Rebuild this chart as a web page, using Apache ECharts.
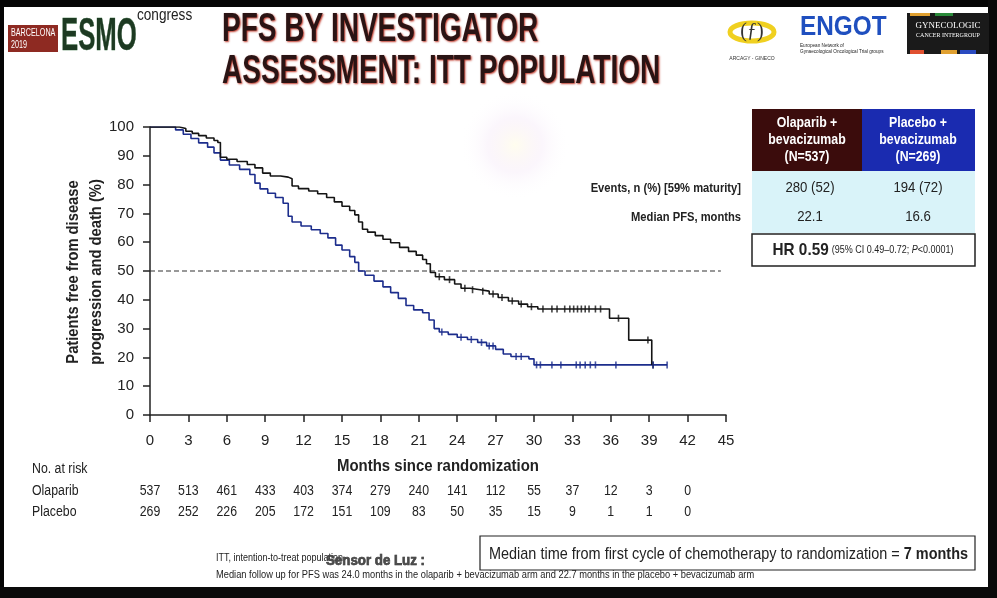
<!DOCTYPE html>
<html><head><meta charset="utf-8">
<script src="https://cdn.jsdelivr.net/npm/echarts@6/dist/echarts.min.js"></script>
<style>html,body{margin:0;padding:0;background:#fff}#c{width:997px;height:598px}</style>
</head><body><div id="c"></div>
<script>
// ---------- DATA ----------
const xTicks = [0,3,6,9,12,15,18,21,24,27,30,33,36,39,42,45];
const olaparibKM = [[0,100],[2.0,100],[2.3,99.5],[2.8,98.5],[3.3,97.8],[3.8,97],[4.4,96.2],[5.0,95.3],[5.3,94.6],[5.5,89.5],[6.0,88.8],[6.8,88],[7.6,87],[8.2,85.8],[8.8,84],[9.4,83],[10.2,82.6],[10.8,82],[11.1,79.5],[11.6,78.6],[12.4,77.8],[13.1,76.8],[13.8,75.5],[14.4,74],[15.0,72.5],[15.6,71],[16.0,69.5],[16.3,67],[16.6,64.5],[17.0,63.5],[17.6,62.3],[18.2,61],[18.8,59.8],[19.5,58.2],[20.2,56.8],[20.8,55.5],[21.3,54],[21.6,52.5],[21.9,49.5],[22.3,48],[23.0,47],[23.8,45.5],[24.3,44],[25.0,43.5],[25.8,43],[26.5,42],[27.2,40.8],[28.0,39.6],[28.8,38.5],[29.5,37.6],[30.3,36.8],[35.9,33.6],[37.4,26.0],[39.2,17.4]];
const placeboKM = [[0,100],[1.6,100],[2.0,99],[2.6,97.5],[3.2,96],[3.8,94.5],[4.5,93],[5.0,91],[5.5,88.5],[6.2,86.8],[7.0,85.3],[7.8,83.5],[8.2,80.5],[8.6,78.5],[9.2,77],[9.8,75.5],[10.4,73.5],[10.8,69],[11.1,67],[11.8,65.6],[12.6,64.3],[13.3,63],[13.9,61.5],[14.5,59],[15.0,57.3],[15.6,55],[16.0,53],[16.3,50],[16.8,48.5],[17.5,46.5],[18.2,44.5],[18.8,42.5],[19.4,40.5],[20.0,38],[20.6,36.5],[21.3,35.5],[21.8,33],[22.2,30],[22.6,28.8],[23.3,28],[24.0,27],[24.8,26.2],[25.6,25.2],[26.3,24],[27.0,22.8],[27.6,21.2],[28.2,20.3],[29.6,19.5],[30.0,17.4],[40.4,17.4]];
const olaparibCensor = [[22.6,48],[23.4,47],[24.6,44],[25.2,43.5],[26.0,43],[26.8,42],[27.5,40.8],[28.3,39.6],[29.0,38.5],[29.8,37.6],[30.7,36.8],[31.4,36.8],[31.8,36.8],[32.4,36.8],[32.8,36.8],[33.1,36.8],[33.4,36.8],[33.7,36.8],[34.0,36.8],[34.3,36.8],[34.8,36.8],[35.2,36.8],[36.6,33.6],[38.9,26.0],[39.3,17.4]];
const placeboCensor = [[22.8,28.8],[24.3,27],[25.1,26.2],[25.9,25.2],[26.5,24],[26.8,24],[28.6,20.3],[29.0,20.3],[30.2,17.4],[30.5,17.4],[31.4,17.4],[32.1,17.4],[33.3,17.4],[33.6,17.4],[34.0,17.4],[34.4,17.4],[34.8,17.4],[36.4,17.4],[39.3,17.4],[40.4,17.4]];
const medianRef = [[0,50],[44.6,50]];
const riskTimes = [0,3,6,9,12,15,18,21,24,27,30,33,36,39,42];
const olaparibRisk = [537,513,461,433,403,374,279,240,141,112,55,37,12,3,0];
const placeboRisk = [269,252,226,205,172,151,109,83,50,35,15,9,1,1,0];
const tableHeader = ['Olaparib +\nbevacizumab\n(N=537)','Placebo +\nbevacizumab\n(N=269)'];
const tableRowLabels = ['Events, n (%) [59% maturity]','Median PFS, months'];
const tableOlaparib = ['280 (52)','22.1'];
const tablePlacebo = ['194 (72)','16.6'];

// ---------- CHART ----------
const FONT = '"Liberation Sans",Arial,sans-serif';
const BLACK = '#141414', BLUE = '#1c2d8c';
const chart = echarts.init(document.getElementById('c'), null, {renderer:'canvas'});
const option = {
  backgroundColor:'#ffffff',
  animation:false,
  grid:{left:150, right:271, top:127, bottom:183},
  xAxis:{type:'value', min:0, max:45, interval:3,
    axisLine:{show:true, lineStyle:{color:'#222', width:1.5}},
    axisTick:{show:true, length:7, lineStyle:{color:'#222', width:1.5}},
    axisLabel:{fontFamily:FONT, fontSize:15, color:'#222', margin:18},
    splitLine:{show:false}},
  yAxis:{type:'value', min:0, max:100, interval:10,
    axisLine:{show:true, lineStyle:{color:'#222', width:1.5}},
    axisTick:{show:true, length:7, lineStyle:{color:'#222', width:1.5}},
    axisLabel:{fontFamily:FONT, fontSize:15, color:'#222', margin:16},
    splitLine:{show:false}},
  series:[
    {type:'line', data:medianRef, symbol:'none', lineStyle:{color:'#333', width:1.2, type:[5,3]}, silent:true, z:1},
    {type:'line', name:'Olaparib', data:olaparibKM, step:'end', symbol:'none', lineStyle:{color:BLACK, width:1.6}, z:3},
    {type:'line', name:'Placebo', data:placeboKM, step:'end', symbol:'none', lineStyle:{color:BLUE, width:1.6}, z:2},
    {type:'scatter', data:olaparibCensor, symbol:'rect', symbolSize:[1.6,7], itemStyle:{color:BLACK}, z:4},
    {type:'scatter', data:placeboCensor, symbol:'rect', symbolSize:[1.6,7], itemStyle:{color:BLUE}, z:4}
  ]
};
chart.setOption(option);

const g = [];
function txt(x,y,text,font,opts){
  opts = opts||{};
  const el = {type:'text', x:x, y:y, style:Object.assign({text:text, fill:'#222', font:font+' '+FONT}, opts.style||{})};
  if (opts.sx) el.scaleX = opts.sx;
  if (opts.rot) el.rotation = opts.rot;
  g.push(el);
}
// frame (photo borders)
g.push({type:'rect', shape:{x:0,y:0,width:997,height:7}, style:{fill:'#050505'}, silent:true});
g.push({type:'rect', shape:{x:0,y:0,width:4,height:598}, style:{fill:'#050505'}, silent:true});
g.push({type:'rect', shape:{x:988,y:0,width:9,height:598}, style:{fill:'#0a0a0a'}, silent:true});
g.push({type:'rect', shape:{x:0,y:587,width:997,height:11}, style:{fill:'#0a0a0a'}, silent:true});
// faint glow
g.push({type:'circle', shape:{cx:515,cy:145,r:55}, style:{fill:new echarts.graphic.RadialGradient(0.5,0.5,0.5,[{offset:0,color:'rgba(255,252,225,0.55)'},{offset:0.5,color:'rgba(242,225,245,0.3)'},{offset:1,color:'rgba(255,255,255,0)'}])}, silent:true, z:-1});

// ESMO logo
g.push({type:'rect', shape:{x:8,y:25,width:50,height:27}, style:{fill:'#8e2a22'}});
txt(11,27,'BARCELONA\n2019','10px',{sx:0.72, style:{fill:'#fff', lineHeight:12}});
txt(61,14,'ESMO','bold 46px',{sx:0.56, style:{fill:'#1d3a22', stroke:'#2f6a3a', lineWidth:0.5}});
txt(137,8,'congress','16px',{sx:0.85});
// Title
const titleStyle = {fill:'#2a1414', textShadowColor:'#c0392b', textShadowBlur:2, textShadowOffsetX:1, textShadowOffsetY:1};
txt(222,10,'PFS BY INVESTIGATOR','bold 40px',{sx:0.7, style:titleStyle});
txt(222,52,'ASSESSMENT: ITT POPULATION','bold 40px',{sx:0.7, style:titleStyle});
// right logos
g.push({type:'ellipse', shape:{cx:752,cy:32,rx:22,ry:9}, style:{fill:'none', stroke:'#f0d020', lineWidth:5}});
txt(752,32,'(\u0192)','20px',{style:{font:'20px serif', fill:'#333', align:'center', verticalAlign:'middle'}});
txt(752,56,'ARCAGY - GINECO','5px',{style:{fill:'#333', align:'center'}});
txt(800,13,'ENGOT','bold 28px',{sx:0.87, style:{fill:'#1f4fbf'}});
txt(800,42,'European Network of\nGynaecological Oncological Trial groups','5.5px',{sx:0.85, style:{lineHeight:6.5}});
g.push({type:'rect', shape:{x:907,y:13,width:82,height:41}, style:{fill:'#1a1a1a'}});
g.push({type:'rect', shape:{x:910,y:13,width:20,height:3}, style:{fill:'#e0a030'}});
g.push({type:'rect', shape:{x:935,y:13,width:18,height:3}, style:{fill:'#2a8a3a'}});
g.push({type:'rect', shape:{x:910,y:50,width:14,height:4}, style:{fill:'#e05030'}});
g.push({type:'rect', shape:{x:941,y:50,width:16,height:4}, style:{fill:'#e0a030'}});
g.push({type:'rect', shape:{x:960,y:50,width:16,height:4}, style:{fill:'#2a4ac0'}});
txt(948,21,'GYNECOLOGIC','9px',{style:{font:'9px serif', fill:'#fff', align:'center'}});
txt(948,32,'CANCER INTERGROUP','6px',{style:{font:'6px serif', fill:'#fff', align:'center'}});

// Y axis name
txt(74,272,'Patients free from disease','bold 16px',{rot:Math.PI/2, sx:0.92, style:{align:'center', verticalAlign:'middle'}});
txt(97,272,'progression and death (%)','bold 16px',{rot:Math.PI/2, sx:0.92, style:{align:'center', verticalAlign:'middle'}});
// X axis name
const xc = chart.convertToPixel({xAxisIndex:0}, 22.5);
txt(xc-0,466,'Months since randomization','bold 17px',{sx:0.88, style:{align:'center', verticalAlign:'middle'}});

// Number at risk
txt(32,469,'No. at risk','14px',{sx:0.88, style:{verticalAlign:'middle'}});
txt(32,491,'Olaparib','14px',{sx:0.88, style:{verticalAlign:'middle'}});
txt(32,512,'Placebo','14px',{sx:0.88, style:{verticalAlign:'middle'}});
riskTimes.forEach((t,i)=>{
  const px = chart.convertToPixel({xAxisIndex:0}, t);
  txt(px,491,String(olaparibRisk[i]),'14px',{sx:0.88, style:{align:'center', verticalAlign:'middle'}});
  txt(px,512,String(placeboRisk[i]),'14px',{sx:0.88, style:{align:'center', verticalAlign:'middle'}});
});

// Table
g.push({type:'rect', shape:{x:752,y:109,width:110,height:62}, style:{fill:'#3b0c0c'}});
g.push({type:'rect', shape:{x:862,y:109,width:113,height:62}, style:{fill:'#1a2bb0'}});
g.push({type:'rect', shape:{x:752,y:171,width:223,height:62}, style:{fill:'#d9f3f9'}});
txt(807,140,tableHeader[0],'bold 14px',{sx:0.88, style:{fill:'#fff', align:'center', verticalAlign:'middle', lineHeight:17}});
txt(918,140,tableHeader[1],'bold 14px',{sx:0.88, style:{fill:'#fff', align:'center', verticalAlign:'middle', lineHeight:17}});
const rowY = [188, 217];
rowY.forEach((y,i)=>{
  txt(741,y,tableRowLabels[i],'bold 13px',{sx:0.86, style:{align:'right', verticalAlign:'middle'}});
  txt(810,y,tableOlaparib[i],'15px',{sx:0.88, style:{align:'center', verticalAlign:'middle'}});
  txt(918,y,tablePlacebo[i],'15px',{sx:0.88, style:{align:'center', verticalAlign:'middle'}});
});
g.push({type:'rect', shape:{x:752,y:234,width:223,height:32}, style:{fill:'#fff', stroke:'#222', lineWidth:1.5}});
g.push({type:'text', x:863, y:250, scaleX:0.9, style:{
  text:'{b|HR 0.59} {s|(95% CI 0.49\u20130.72; }{i|P}{s|<0.0001)}',
  align:'center', verticalAlign:'middle',
  rich:{b:{font:'bold 17px '+FONT, fill:'#222'}, s:{font:'10px '+FONT, fill:'#222'}, i:{font:'italic 10px '+FONT, fill:'#222'}}}});

// Bottom box
g.push({type:'rect', shape:{x:480,y:536,width:495,height:34}, style:{fill:'#fff', stroke:'#222', lineWidth:1.2}});
g.push({type:'text', x:489, y:554, scaleX:0.85, style:{
  text:'{n|Median time from first cycle of chemotherapy to randomization = }{b|7 months}',
  verticalAlign:'middle',
  rich:{n:{font:'17px '+FONT, fill:'#222'}, b:{font:'bold 17px '+FONT, fill:'#222'}}}});
txt(216,558,'ITT, intention-to-treat population','10px',{sx:0.9, style:{verticalAlign:'middle'}});
txt(216,575,'Median follow up for PFS was 24.0 months in the olaparib + bevacizumab arm and 22.7 months in the placebo + bevacizumab arm','10px',{sx:0.93, style:{verticalAlign:'middle'}});
txt(326,561,'Sensor de Luz :','bold 14px',{sx:0.95, style:{fill:'#4a4a4a', stroke:'#222', lineWidth:0.6, verticalAlign:'middle'}});

chart.setOption({graphic:{elements:g}});
</script>
</body></html>
